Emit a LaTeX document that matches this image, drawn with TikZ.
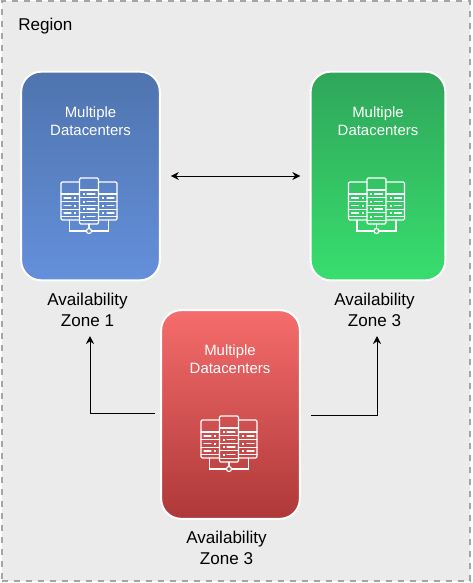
\documentclass[tikz,border=0pt]{standalone}
\usepackage{fontspec}
\setmainfont{Liberation Sans}
\usetikzlibrary{arrows.meta}
\definecolor{regionbg}{RGB}{235,235,235}
\definecolor{regionline}{RGB}{165,165,165}
\definecolor{blueT}{RGB}{79,116,174}
\definecolor{blueB}{RGB}{100,144,219}
\definecolor{greenT}{RGB}{47,166,90}
\definecolor{greenB}{RGB}{56,222,110}
\definecolor{redT}{RGB}{246,108,108}
\definecolor{redB}{RGB}{174,56,56}
\tikzset{
  zonecard/.style n args={3}{draw=white, line width=1.5pt, rounded corners=15pt, top color=#1, bottom color=#2,
    minimum width=#3, minimum height=156.5pt, inner sep=0pt},
  cardtext/.style={text=white, align=center, font=\fontsize{11.2}{13.5}\selectfont},
  zonelabel/.style={align=center, text=black, font=\fontsize{12.8}{15.75}\selectfont},
  link/.style={-{Stealth[length=6pt,width=6pt]}, black, line width=0.75pt}
}
\newcommand{\serverIcon}[1]{%
  \begin{scope}[shift={(#1)}, white, line width=0.9pt, line cap=round]
    % centre rack
    \draw[rounded corners=1pt] (-9.5,-23) rectangle (9.5,23);
    \draw (-9.5,-11) -- (9.5,-11);
    \foreach \y in {-7,0.5,8,15.5}{
      \draw (-9.5,\y+3.7) -- (9.5,\y+3.7);
      \fill (-6.5,\y-1) rectangle (-4.5,\y+1);
      \draw (-2,\y) -- (6,\y);
    }
    % side racks
    \foreach \s in {-1,1}{
      \draw[rounded corners=1pt] (\s*9.5,-19) -- (\s*28,-19) -- (\s*28,19) -- (\s*9.5,19);
      \draw (\s*9.5,-7) -- (\s*28,-7);
      \foreach \y in {-3,4.5,12}{
        \draw (\s*9.5,\y+3.7) -- (\s*28,\y+3.7);
        \fill (\s*13,\y-1) rectangle (\s*15,\y+1);
        \draw (\s*18,\y) -- (\s*25,\y);
      }
      \draw (\s*19.5,19) -- (\s*19.5,30) -- (\s*2.5,30);
    }
    \draw (0,23) -- (0,27.5);
    \draw (0,30) circle (2.5);
  \end{scope}}
\begin{document}
\begin{tikzpicture}[x=0.75pt, y=-0.75pt]
\useasboundingbox (0,0) rectangle (473,583);
% region
\node[draw=regionline, fill=regionbg, line width=1.5pt, dash pattern=on 5pt off 4pt, minimum width=351.5pt, minimum height=434.5pt, inner sep=0pt] (region) at (236,291) {};
\node[anchor=west, inner sep=0pt, font=\fontsize{12.8}{14}\selectfont] (regionname) at (18,26) {Region};
% zones
\node[zonecard={blueT}{blueB}{104pt}] (blue) at (90.5,176) {};
\node[zonecard={greenT}{greenB}{101pt}] (green) at (378,176) {};
\node[zonecard={redT}{redB}{104pt}] (red) at (230.5,414.5) {};
\node[cardtext] (bluetext) at (90.5,121) {Multiple\\Datacenters};
\node[cardtext] (greentext) at (378,121) {Multiple\\Datacenters};
\node[cardtext] (redtext) at (230,359) {Multiple\\Datacenters};
\serverIcon{89,201}
\serverIcon{376.5,201}
\serverIcon{229,439}
\node[zonelabel] (zoneA) at (87.5,309.5) {Availability\\Zone 1};
\node[zonelabel] (zoneB) at (374.5,309.5) {Availability\\Zone 3};
\node[zonelabel] (zoneC) at (226.5,547.5) {Availability\\Zone 3};
% links
\coordinate (tipA) at (90,336);
\coordinate (tipB) at (377,336);
\draw[{Stealth[length=6pt,width=6pt]}-{Stealth[length=6pt,width=6pt]}, line width=0.75pt, shorten <=7.5pt, shorten >=7pt] (blue) -- (green);
\draw[link, shorten <=3.5pt] (red.west) ++(-0.5,-1) coordinate (startA) (startA) -| (tipA);
\draw[link, shorten <=7.5pt] (red.east) ++(0.5,1) coordinate (startB) (startB) -| (tipB);
\end{tikzpicture}
\end{document}
